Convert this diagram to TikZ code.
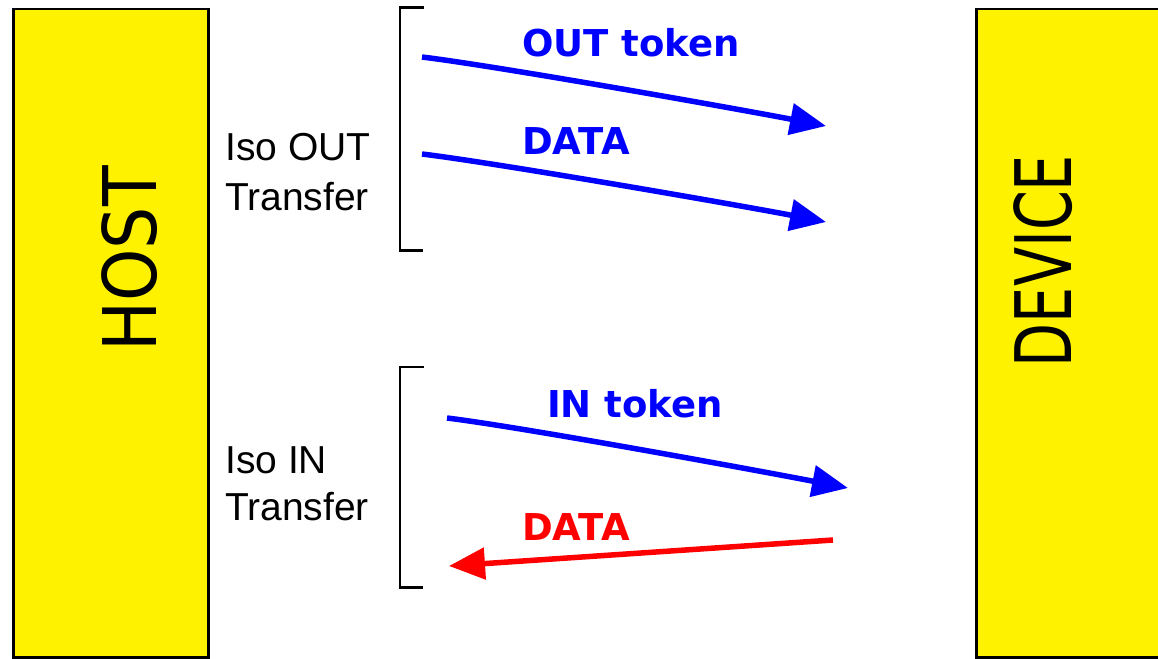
\documentclass[tikz,border=0pt]{standalone}
\usepackage{fontspec}
\setmainfont{Liberation Sans}
\newfontfamily\handfont{DejaVu Sans}
\usetikzlibrary{arrows.meta}
\begin{document}
\begin{tikzpicture}[x=1pt,y=-1pt,
  box/.style={draw=black,line width=2.5pt,fill=yellow,inner sep=0,anchor=north west},
  bigtext/.style={font=\handfont, inner sep=0, rotate=90},
  lbl/.style={font=\fontsize{39}{39}\selectfont, inner sep=0, anchor=base west},
  msg/.style={font=\handfont\bfseries\fontsize{37}{37}\selectfont, inner sep=0, anchor=base west},
  sig/.style={line width=5.5pt, -{Triangle[length=36pt,width=31pt]}},
  brk/.style={line width=2.7pt}]
\clip (0,0) rectangle (1158,658);
\fill[white] (0,0) rectangle (1158,658);
% boxes
\node[box, minimum width=195pt, minimum height=648pt] (host) at (12,8) {};
\node[box, minimum width=200pt, minimum height=648pt] (device) at (975,8) {};
\node[bigtext] (hostlbl) at (130,259) {\fontsize{74}{74}\selectfont\scalebox{0.9}[1]{HOST}};
\node[bigtext] (devlbl) at (1043,261) {\fontsize{78}{78}\selectfont\scalebox{0.733}[1]{DEVICE}};
% brackets
\draw[brk] (424,7.5) -- (400,7.5) -- (400,250.5) -- (423,250.5);
\draw[brk] (424,367) -- (400,367) -- (400,587.5) -- (423,587.5);
% transfer labels
\node[lbl] (outl1) at (225,160) {Iso OUT};
\node[lbl] (outl2) at (225,210) {Transfer};
\node[lbl] (inl1) at (225,473) {Iso IN};
\node[lbl] (inl2) at (225,520) {Transfer};
% message labels
\node[msg, text=blue] (m1) at (522,57) {OUT token};
\node[msg, text=blue] (m2) at (522,154) {DATA};
\node[msg, text=blue] (m3) at (547,417) {IN token};
\node[msg, text=red] (m4) at (522,540) {DATA};
% arrow end points
\coordinate (a1s) at (422,57);  \coordinate (a1e) at (826,126);
\coordinate (a2s) at (422,154); \coordinate (a2e) at (826,222);
\coordinate (a3s) at (447,418); \coordinate (a3e) at (848,488);
\coordinate (a4s) at (833,540); \coordinate (a4e) at (449,566);
\draw[sig, blue] (a1s) to[out=-7, in=169, looseness=0.5] (a1e);
\draw[sig, blue] (a2s) to[out=-7, in=169, looseness=0.5] (a2e);
\draw[sig, blue] (a3s) to[out=-7, in=169, looseness=0.5] (a3e);
\draw[sig, red] (a4s) -- (a4e);
\end{tikzpicture}
\end{document}
